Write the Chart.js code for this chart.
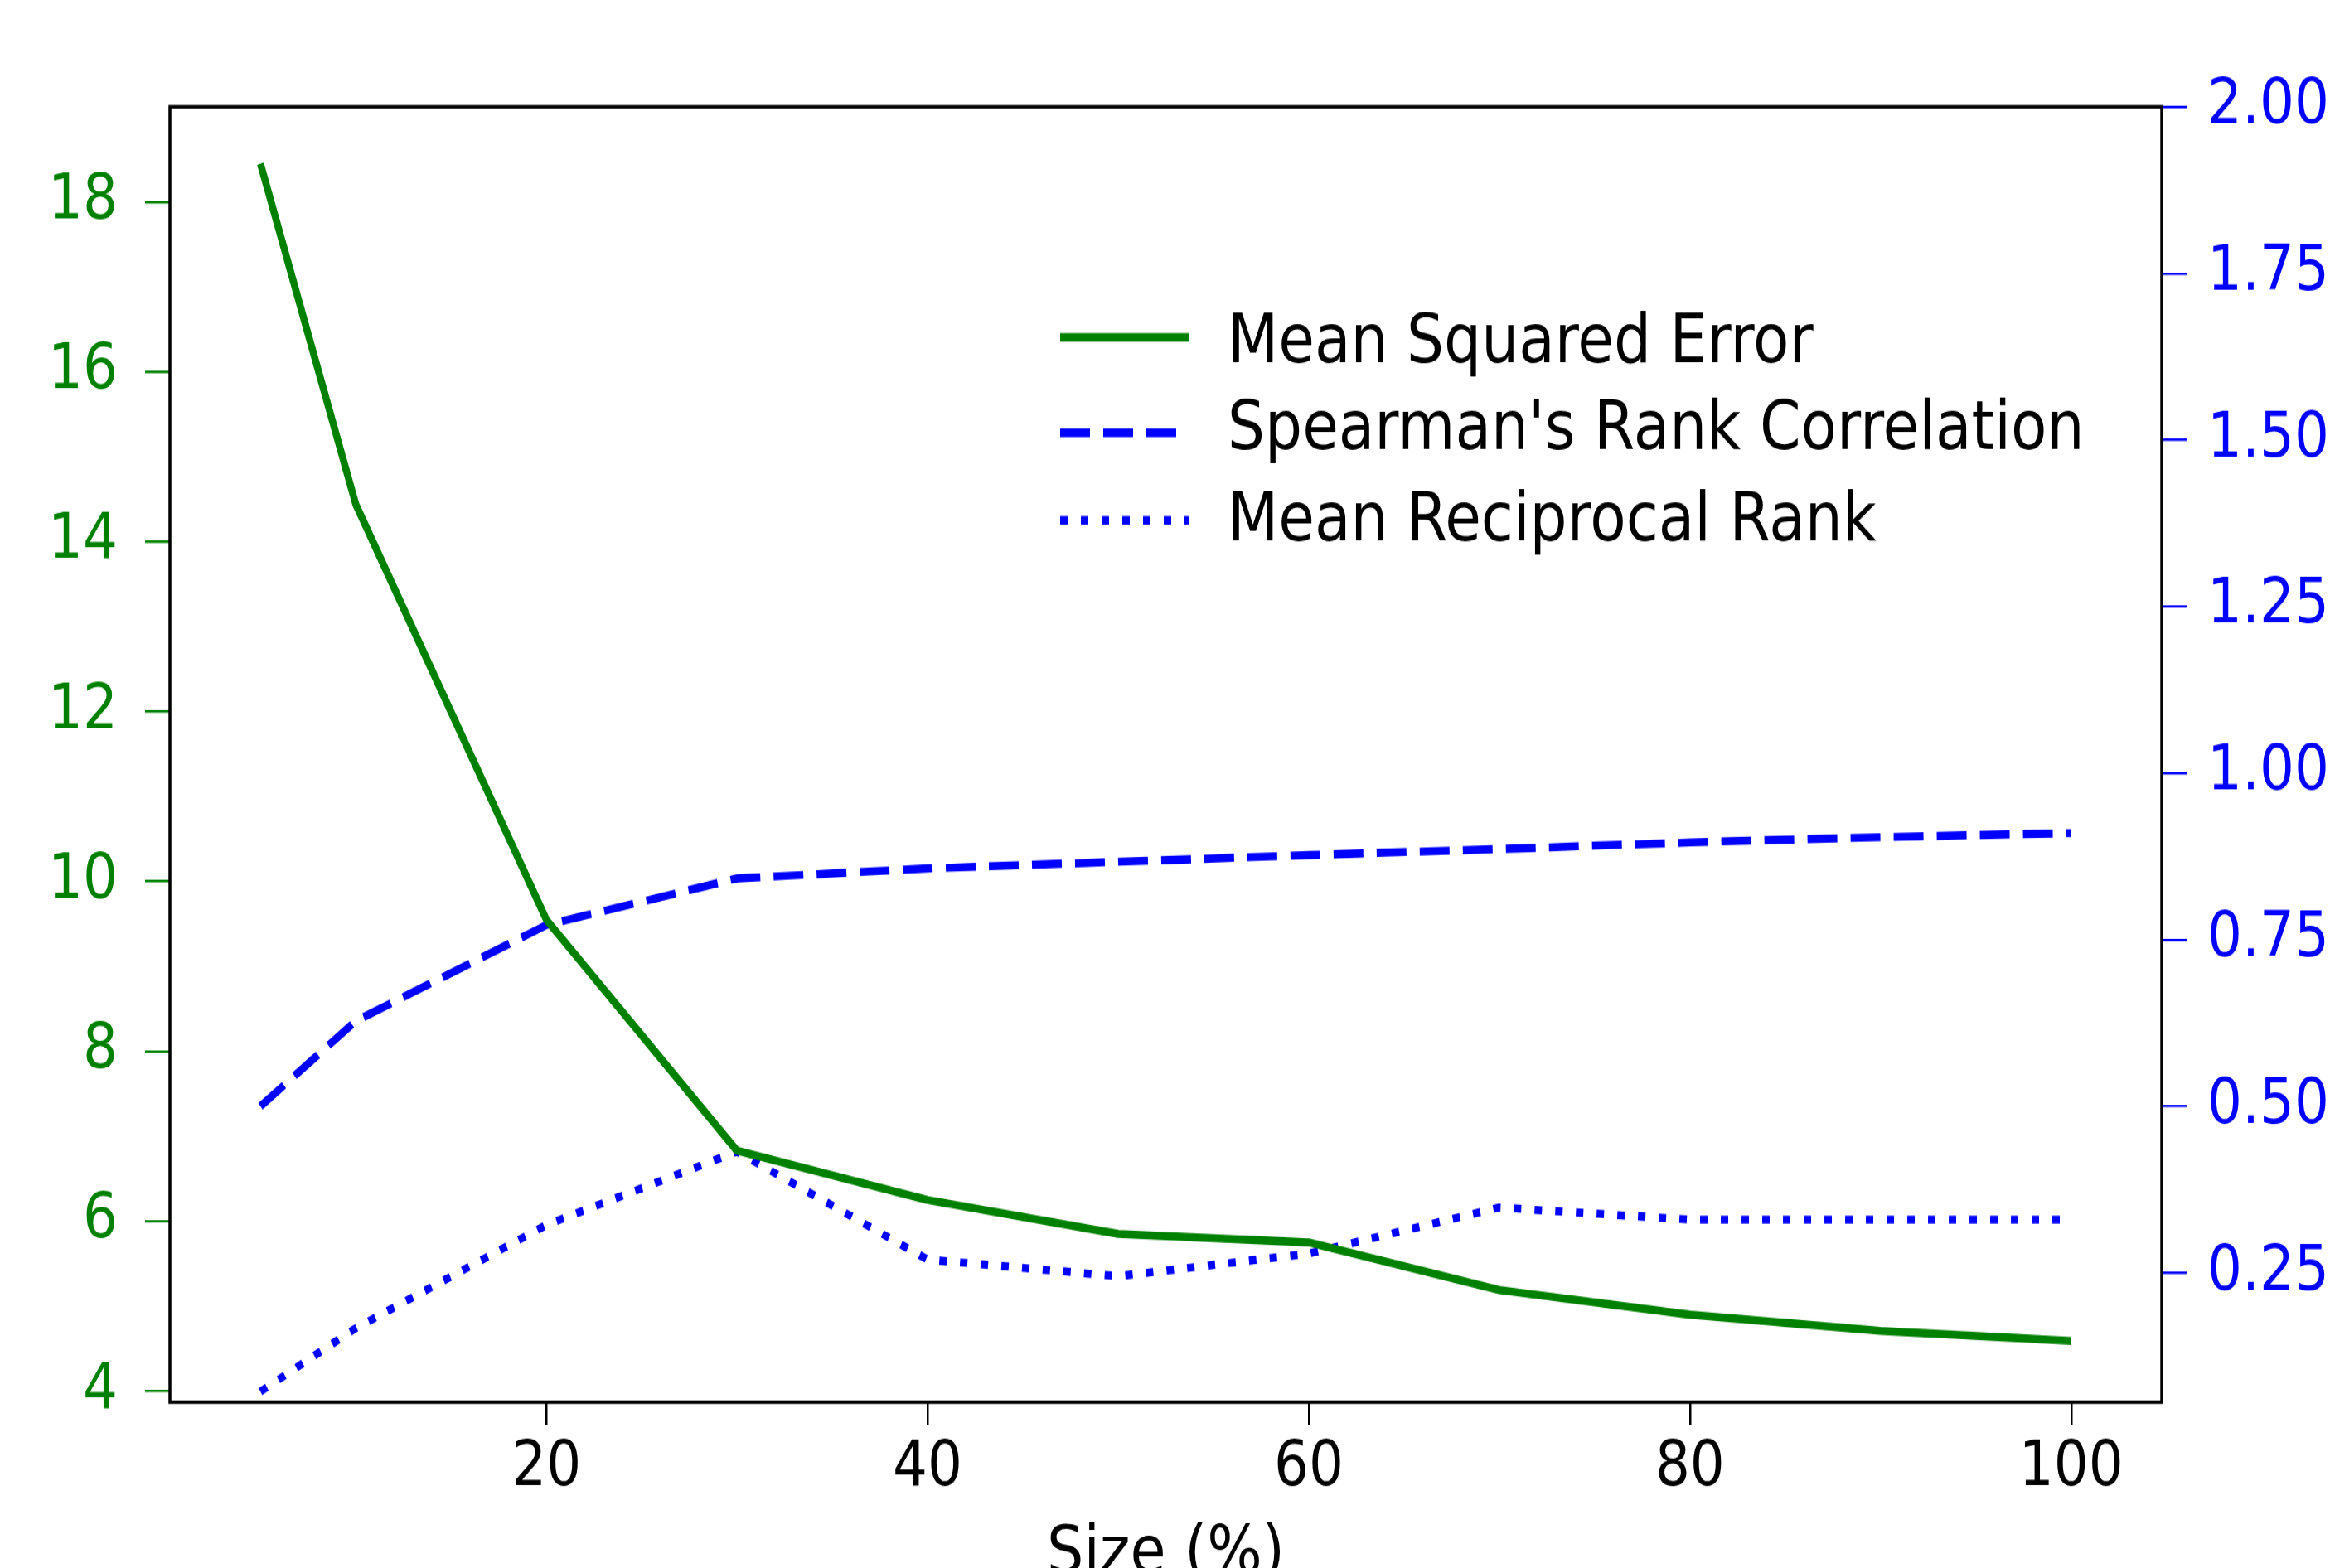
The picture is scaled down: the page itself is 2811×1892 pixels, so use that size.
<!DOCTYPE html>
<html>
<head>
<meta charset="utf-8">
<script src="https://cdn.jsdelivr.net/npm/chart.js@4.4.1/dist/chart.umd.min.js"></script>
<style>
  html { overflow: hidden; }
  html, body { margin: 0; padding: 0; background: #fff; width: 2811px; height: 1892px; }
  /* the source image is stretched vertically, so draw short and stretch */
  #wrap { width: 2811px; height: 1645px; transform-origin: 0 0; transform: scale(1, 1.15015); }
</style>
</head>
<body>
<div id="wrap"><canvas id="chart" width="2811" height="1645"></canvas></div>
<script>
const sizes = [5, 10, 20, 30, 40, 50, 60, 70, 80, 90, 100];
const mse = [18.45, 14.44, 9.55, 6.83, 6.25, 5.85, 5.75, 5.19, 4.9, 4.71, 4.59];
const spearman = [0.5, 0.628, 0.772, 0.842, 0.857, 0.867, 0.877, 0.886, 0.896, 0.904, 0.91];
const mrr = [0.072, 0.167, 0.322, 0.432, 0.27, 0.245, 0.279, 0.348, 0.33, 0.33, 0.33];
const seriesNames = ['Mean Squared Error', "Spearman's Rank Correlation", 'Mean Reciprocal Rank'];
const xTicks = [20, 40, 60, 80, 100];
const leftTicks = [4, 6, 8, 10, 12, 14, 16, 18];
const rightTicks = [0.25, 0.5, 0.75, 1.0, 1.25, 1.5, 1.75, 2.0];
const xTitle = 'Size (%)';

const FONT = '"DejaVu Sans", sans-serif';

function points(ys) {
    return sizes.map((s, i) => ({ x: s, y: ys[i] }));
}

// legend sits inside the plot, like matplotlib's "best" spot
const insideLegend = {
    id: 'insideLegend',
    afterDatasetsDraw(chart) {
        const ctx = chart.ctx;
        const handleY = [354, 454, 546];
        const textY = [380, 471, 567];
        chart.data.datasets.forEach((ds, i) => {
            ctx.save();
            ctx.strokeStyle = ds.borderColor;
            ctx.lineWidth = 9;
            ctx.setLineDash(ds.borderDash || []);
            ctx.beginPath();
            ctx.moveTo(1279, handleY[i]);
            ctx.lineTo(1434, handleY[i]);
            ctx.stroke();
            ctx.setLineDash([]);
            ctx.fillStyle = '#000';
            ctx.font = '71px ' + FONT;
            ctx.textBaseline = 'alphabetic';
            ctx.textAlign = 'left';
            ctx.fillText(ds.label, 1481, textY[i]);
            ctx.restore();
        });
    }
};

// box around the plot area (all four spines)
const frame = {
    id: 'frame',
    afterDraw(chart) {
        const a = chart.chartArea;
        const ctx = chart.ctx;
        ctx.save();
        ctx.strokeStyle = '#000';
        ctx.lineWidth = 3.5;
        ctx.strokeRect(a.left, a.top, a.right - a.left, a.bottom - a.top);
        ctx.restore();
    }
};

const ctx = document.getElementById('chart').getContext('2d');
new Chart(ctx, {
    type: 'line',
    data: {
        datasets: [{
            label: seriesNames[0],
            data: points(mse),
            yAxisID: 'yLeft',
            borderColor: '#008000',
            borderWidth: 8.5,
            borderJoinStyle: 'round',
            pointRadius: 0,
            tension: 0
        }, {
            label: seriesNames[1],
            data: points(spearman),
            yAxisID: 'yRight',
            borderColor: '#0000ff',
            borderWidth: 8.5,
            borderDash: [36, 16],
            pointRadius: 0,
            tension: 0
        }, {
            label: seriesNames[2],
            data: points(mrr),
            yAxisID: 'yRight',
            borderColor: '#0000ff',
            borderWidth: 8.5,
            borderDash: [9, 16],
            pointRadius: 0,
            tension: 0
        }]
    },
    options: {
        responsive: false,
        animation: false,
        devicePixelRatio: 1,
        layout: { padding: { top: 112, left: 0, right: 0, bottom: 0 } },
        plugins: {
            legend: { display: false },
            tooltip: { enabled: false }
        },
        scales: {
            x: {
                type: 'linear',
                min: 0.25,
                max: 104.75,
                afterFit: s => { s.height = 174; },
                afterBuildTicks: s => { s.ticks = xTicks.map(v => ({ value: v })); },
                border: { display: false },
                grid: { drawOnChartArea: false, color: '#000', lineWidth: 2.5, tickLength: 24 },
                ticks: { color: '#000', padding: 6, font: { family: FONT, size: 66 }, maxRotation: 0 },
                title: {
                    display: true,
                    text: xTitle,
                    color: '#000',
                    font: { family: FONT, size: 70 },
                    padding: { top: 0, bottom: -29 }
                }
            },
            yLeft: {
                type: 'linear',
                position: 'left',
                min: 3.87,
                max: 19.12,
                afterFit: s => { s.width = 205; },
                afterBuildTicks: s => { s.ticks = leftTicks.map(v => ({ value: v })); },
                border: { display: false },
                grid: { drawOnChartArea: false, color: '#008000', lineWidth: 2.5, tickLength: 30 },
                ticks: { color: '#008000', padding: 33, font: { family: FONT, size: 66 } }
            },
            yRight: {
                type: 'linear',
                position: 'right',
                min: 0.056,
                max: 2.0,
                afterFit: s => { s.width = 203; },
                afterBuildTicks: s => { s.ticks = rightTicks.map(v => ({ value: v })); },
                border: { display: false },
                grid: { drawOnChartArea: false, color: '#0000ff', lineWidth: 2.5, tickLength: 30 },
                ticks: {
                    color: '#0000ff',
                    padding: 25,
                    font: { family: FONT, size: 66 },
                    callback: v => v.toFixed(2)
                }
            }
        }
    },
    plugins: [insideLegend, frame]
});
</script>
</body>
</html>
